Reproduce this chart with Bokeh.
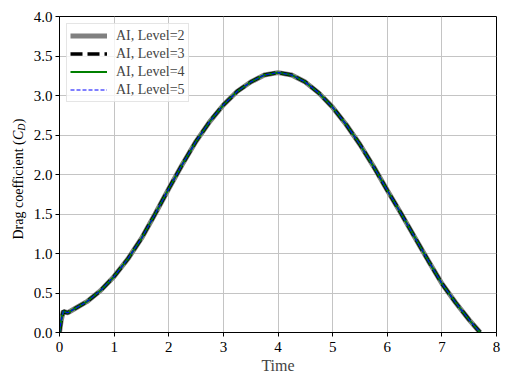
import math
from bokeh.plotting import figure
from bokeh.layouts import row
from bokeh.models import (FixedTicker, PrintfTickFormatter, Legend, LegendItem,
                          Label, Range1d)
from bokeh.embed import file_html
from bokeh.resources import INLINE

time = [0.0, 0.03, 0.07, 0.10, 0.15, 0.30, 0.50, 0.75, 1.00, 1.25, 1.50, 1.75,
        2.00, 2.25, 2.50, 2.75, 3.00, 3.25, 3.50, 3.75, 4.00, 4.25, 4.50, 4.75,
        5.00, 5.25, 5.50, 5.75, 6.00, 6.25, 6.50, 6.75, 7.00, 7.25, 7.50, 7.70]
cd_level2 = [0.0, 0.15, 0.27, 0.26, 0.25, 0.31, 0.39, 0.53, 0.71, 0.93, 1.19, 1.50,
             1.82, 2.13, 2.42, 2.67, 2.88, 3.05, 3.17, 3.26, 3.29, 3.26, 3.17, 3.03,
             2.85, 2.63, 2.38, 2.10, 1.80, 1.51, 1.21, 0.91, 0.62, 0.38, 0.16, 0.0]
cd_level3 = list(cd_level2)
cd_level4 = list(cd_level2)
cd_level5 = list(cd_level2)

labels = ["AI, Level=2", "AI, Level=3", "AI, Level=4", "AI, Level=5"]
x_ticks = [0, 1, 2, 3, 4, 5, 6, 7, 8]
y_ticks = [0.0, 0.5, 1.0, 1.5, 2.0, 2.5, 3.0, 3.5, 4.0]
x_title = "Time"
y_title_parts = ["Drag coefficient (", "C", "D", ")"]

FONT = "Liberation Serif"

# ---- narrow side figure that carries the y-axis title (with subscript) ----
LW = 30
side = figure(frame_width=LW, frame_height=384, output_backend="svg",
              toolbar_location=None, x_range=Range1d(0, LW), y_range=Range1d(0, 384),
              min_border=0, x_axis_location=None, y_axis_location=None)
side.outline_line_color = None
side.xgrid.visible = False
side.ygrid.visible = False
side.background_fill_color = "white"
side.border_fill_color = "white"

base_x = 18
y0 = 161
pieces = [(y_title_parts[0], "14px", "normal", 0, 0.0),
          (y_title_parts[1], "14px", "italic", 0, 99.5),
          (y_title_parts[2], "10px", "italic", 3, 108.8),
          (y_title_parts[3], "14px", "normal", 0, 116.2)]
for txt, size, style, dx, dy in pieces:
    side.add_layout(Label(x=base_x + dx, y=y0 + dy, text=txt, angle=math.pi / 2,
                          text_font=FONT, text_font_size=size,
                          text_font_style=style, text_align="left",
                          text_baseline="alphabetic", text_color="black"))

# ---- main figure ----
p = figure(frame_width=437, frame_height=316, output_backend="svg",
           toolbar_location=None, x_range=Range1d(0, 8), y_range=Range1d(0, 4.0),
           min_border_left=59 - LW, min_border_right=16, min_border_top=16,
           min_border_bottom=40)
p.background_fill_color = "white"
p.border_fill_color = "white"
p.outline_line_color = "black"
p.outline_line_width = 1

r2 = p.line(time, cd_level2, line_color="#808080", line_width=5)
r3 = p.line(time, cd_level3, line_color="black", line_width=3.5, line_dash="12 5")
r4 = p.line(time, cd_level4, line_color="#008000", line_width=2.2)
r5 = p.line(time, cd_level5, line_color="#0000ff", line_width=1.1, line_dash="4 2")

for ax in (p.xaxis[0], p.yaxis[0]):
    ax.axis_line_color = "black"
    ax.major_tick_line_color = "black"
    ax.major_tick_out = 4
    ax.major_tick_in = 0
    ax.minor_tick_line_color = None
    ax.major_label_text_font = FONT
    ax.major_label_text_font_size = "15px"
    ax.major_label_text_color = "black"

p.xaxis.ticker = FixedTicker(ticks=x_ticks)
p.yaxis.ticker = FixedTicker(ticks=y_ticks)
p.yaxis.formatter = PrintfTickFormatter(format="%.1f")
p.xaxis.major_label_standoff = 5
p.yaxis.major_label_standoff = 3
p.xaxis.axis_label = x_title
p.xaxis.axis_label_text_font = FONT
p.xaxis.axis_label_text_font_size = "16px"
p.xaxis.axis_label_text_font_style = "normal"
p.xaxis.axis_label_standoff = 2
p.yaxis.axis_label = None

p.xgrid.ticker = FixedTicker(ticks=x_ticks)
p.ygrid.ticker = FixedTicker(ticks=y_ticks)
p.grid.grid_line_color = "#c4c4c4"
p.grid.grid_line_width = 1

legend = Legend(items=[LegendItem(label=labels[0], renderers=[r2]),
                       LegendItem(label=labels[1], renderers=[r3]),
                       LegendItem(label=labels[2], renderers=[r4]),
                       LegendItem(label=labels[3], renderers=[r5])],
                location="top_left")
legend.margin = 7
legend.padding = 3
legend.spacing = 1
legend.glyph_width = 37
legend.glyph_height = 17
legend.label_height = 17
legend.label_standoff = 9
legend.label_text_font = FONT
legend.label_text_font_size = "14px"
legend.label_text_baseline = "middle"
legend.border_line_color = "#cccccc"
legend.border_line_width = 1
legend.background_fill_color = "white"
legend.background_fill_alpha = 0.8
p.add_layout(legend)

layout = row(side, p, spacing=0)
open("out.html", "w").write(file_html(layout, INLINE))
